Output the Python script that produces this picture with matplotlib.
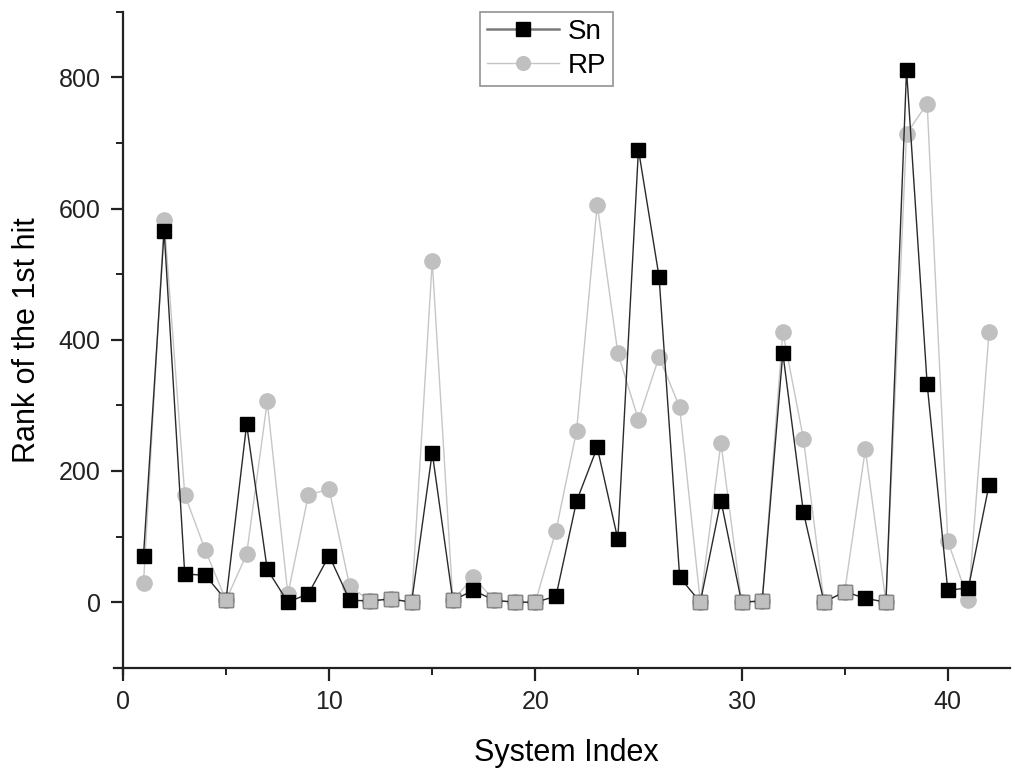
import numpy as np
import matplotlib
matplotlib.use('Agg')
import matplotlib.pyplot as plt
from matplotlib.ticker import MultipleLocator

plt.rcParams['font.family'] = ['Liberation Sans', 'DejaVu Sans']

# System index 1..42
system_index = list(range(1, 43))

# Rank of the first hit
sn = [71, 566, 43, 41, 3, 271, 50, 0, 13, 71,
      3, 2, 5, 0, 228, 3, 18, 3, 0, 0,
      9, 154, 236, 96, 690, 496, 38, 0, 155, 0,
      2, 380, 137, 0, 16, 6, 0, 811, 332, 18,
      22, 179]
rp = [29, 583, 164, 79, 3, 73, 306, 12, 164, 172,
      24, 2, 5, 0, 520, 3, 38, 3, 0, 0,
      109, 261, 606, 380, 278, 374, 297, 0, 243, 0,
      2, 412, 249, 0, 16, 233, 0, 714, 760, 93,
      3, 412]

x = np.array(system_index)
sn = np.array(sn)
rp = np.array(rp)

fig = plt.figure(figsize=(10.24, 7.82), dpi=100)
ax = fig.add_axes([0.120, 0.146, 0.866, 0.839])

ax.plot(x, rp, color='#c6c6c6', lw=1.0, marker='o', ms=11,
        mfc='#c0c0c0', mec='#c0c0c0', label='RP', zorder=2)
ax.plot(x, sn, color='#2a2a2a', lw=1.0, marker='s', ms=10.5,
        mfc='black', mec='black', label='Sn', zorder=3)

# where both methods coincide the marker shows up as a grey square
same = sn == rp
ax.plot(x[same], rp[same], ls='none', marker='s', ms=10.5,
        mfc='#c0c0c0', mec='#888888', mew=0.8, zorder=4)

ax.set_xlim(0, 43)
ax.set_ylim(-100, 900)
ax.xaxis.set_major_locator(MultipleLocator(10))
ax.xaxis.set_minor_locator(MultipleLocator(5))
ax.yaxis.set_major_locator(MultipleLocator(200))
ax.yaxis.set_minor_locator(MultipleLocator(100))
ax.set_yticks([0, 200, 400, 600, 800])

for side in ['top', 'right']:
    ax.spines[side].set_visible(False)
for side in ['left', 'bottom']:
    ax.spines[side].set_linewidth(1.6)
    ax.spines[side].set_color('#222222')
# Origin-style axes that poke a little past the corner
ax.spines['bottom'].set_bounds(-0.45, 43)
ax.spines['left'].set_bounds(-110, 900)

ax.tick_params(which='major', direction='out', length=9, width=1.6,
               labelsize=18, colors='#222222', pad=7)
ax.tick_params(which='minor', direction='out', length=5, width=1.4,
               colors='#222222')

ax.set_xlabel('System Index', fontsize=22, labelpad=17)
ax.set_ylabel('Rank of the 1st hit', fontsize=22, labelpad=12)

handles, labels = ax.get_legend_handles_labels()
leg = ax.legend(handles[::-1], labels[::-1], loc='upper center',
                bbox_to_anchor=(0.478, 1.0), fontsize=20, frameon=True,
                fancybox=False, edgecolor='#777777', handlelength=2.6,
                handletextpad=0.3, borderpad=0.25, labelspacing=0.3,
                borderaxespad=0.0, markerscale=0.9)
leg.get_frame().set_linewidth(1.2)
leg.get_lines()[0].set_color('#7a7a7a')
leg.get_lines()[0].set_linewidth(1.8)

fig.savefig('out.png', dpi=100)
